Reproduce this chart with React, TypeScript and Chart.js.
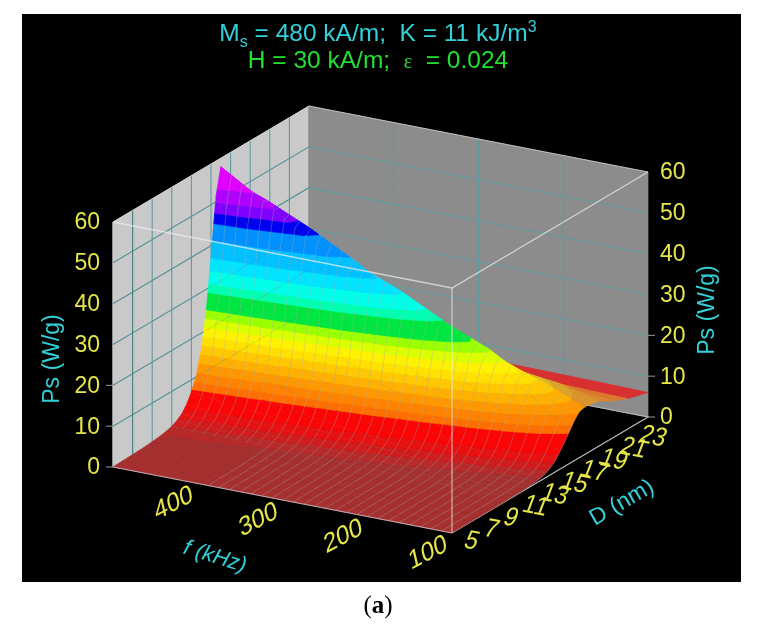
import { useEffect, useRef } from "react";
import { Chart, registerables } from "chart.js";

Chart.register(...registerables);

// axes
const fTicks = [100, 200, 300, 400];
const dTicks = [5, 7, 9, 11, 13, 15, 17, 19, 21, 23];
const psTicks = [0, 10, 20, 30, 40, 50, 60];

// surface nodes
const fNodes = [100, 150, 200, 250, 300, 350, 400, 450, 500];
const dNodes = [3, 4, 5, 6, 7, 8, 9, 9.5, 10, 10.5, 11, 11.5, 12, 12.5, 13, 13.5, 14, 14.5, 15, 15.5, 16, 16.5, 17, 17.5, 18, 19, 20, 21, 22, 23];

const ps100 = [0, 0, 0, 0, 0, 0, 0.1, 0.1, 0.1, 0.2, 0.3, 0.4, 0.6, 1.0, 1.7, 2.7, 4.3, 6.0, 8.0, 9.9, 11.3, 11.6, 11.5, 11.3, 11.0, 9.6, 8.4, 7.4, 6.7, 6.0];
const ps150 = [0, 0, 0, 0, 0, 0.1, 0.1, 0.2, 0.3, 0.4, 0.6, 0.9, 1.5, 2.3, 3.7, 6.1, 9.2, 12.4, 15.4, 17.1, 17.1, 16.1, 15.3, 14.4, 13.5, 11.0, 8.7, 7.5, 6.8, 6.2];
const ps200 = [0, 0, 0, 0.1, 0.1, 0.1, 0.2, 0.3, 0.5, 0.7, 1.1, 1.7, 2.6, 4.1, 6.5, 10.5, 15.4, 19.8, 22.6, 23.1, 20.9, 18.6, 17.3, 15.9, 14.7, 11.6, 8.9, 7.6, 6.9, 6.3];
const ps250 = [0, 0, 0.1, 0.1, 0.1, 0.2, 0.3, 0.5, 0.8, 1.2, 1.7, 2.6, 4.0, 6.3, 10.1, 16.0, 22.5, 27.2, 29.0, 27.4, 23.2, 20.0, 18.4, 16.7, 15.3, 12.0, 9.2, 7.7, 7.0, 6.4];
const ps300 = [0, 0, 0.1, 0.1, 0.2, 0.3, 0.5, 0.8, 1.1, 1.7, 2.5, 3.8, 5.8, 9.0, 14.4, 22.2, 29.9, 34.3, 34.2, 30.6, 24.7, 20.9, 19.0, 17.2, 15.7, 12.5, 9.9, 8.5, 7.4, 6.4];
const ps350 = [0, 0.1, 0.1, 0.2, 0.3, 0.4, 0.7, 1.0, 1.5, 2.3, 3.4, 5.1, 7.9, 12.2, 19.2, 29.0, 37.4, 40.6, 38.4, 32.9, 25.7, 21.4, 19.4, 17.5, 15.9, 12.6, 9.9, 8.5, 7.4, 6.4];
const ps400 = [0, 0.1, 0.1, 0.2, 0.3, 0.5, 0.9, 1.3, 1.9, 3.0, 4.5, 6.7, 10.3, 15.8, 24.7, 36.2, 44.7, 46.1, 41.7, 34.5, 26.4, 21.8, 19.7, 17.7, 16.1, 12.6, 10.0, 8.5, 7.5, 6.4];
const ps450 = [0, 0.1, 0.2, 0.3, 0.4, 0.7, 1.1, 1.7, 2.4, 3.8, 5.6, 8.5, 12.9, 19.9, 30.6, 43.7, 51.6, 50.8, 44.3, 35.8, 26.9, 22.1, 19.9, 17.9, 16.2, 12.7, 10.0, 8.6, 7.5, 6.4];
const ps500 = [0, 0.1, 0.2, 0.3, 0.5, 0.8, 1.4, 2.1, 3.0, 4.6, 7.0, 10.3, 15.9, 24.3, 37.0, 51.2, 57.9, 54.9, 46.4, 36.7, 27.3, 22.3, 20.1, 18.0, 16.2, 12.7, 10.0, 8.6, 7.5, 6.4];
const psRows = [ps100, ps150, ps200, ps250, ps300, ps350, ps400, ps450, ps500];

// contour bands: upper limit of each band and its colour
const bandTops = [0.8, 1.5, 2.5, 4, 7.5, 9, 11, 13, 15, 17, 19, 21, 23, 25, 29, 31, 34, 37, 41, 45, 47.5, 50, 53, 60.1];
const bandColors = ["#a5302f", "#b82a2a", "#d01c1c", "#e81010", "#fc0505", "#ff6e00", "#ff8200", "#ff9800", "#ffb000", "#ffc800", "#ffe000", "#fff200", "#dcff00", "#9cff00", "#00e640", "#00ffb0", "#00ffe8", "#00e4ff", "#00c0ff", "#0090ff", "#0000f0", "#8000ff", "#b000ff", "#e000ff"];

const F_MIN = 100, F_MAX = 500, D_MIN = 3, D_MAX = 23, Z_MAX = 60;
const GRID = "#5f9a9e";
const CYAN = "#33d0d8";
const YELLOW = "#e6e64a";

type P3 = { f: number; d: number; z: number };
type P2 = { x: number; y: number };

// the plot box is a parallel projection
const project = (f: number, d: number, z: number): P2 => ({
  x: 452 - ((f - F_MIN) / (F_MAX - F_MIN)) * 339 + ((d - D_MIN) / (D_MAX - D_MIN)) * 196,
  y: 533 - ((f - F_MIN) / (F_MAX - F_MIN)) * 66 - ((d - D_MIN) / (D_MAX - D_MIN)) * 116 - (z / Z_MAX) * 245,
});
const pt = (p: P3) => project(p.f, p.d, p.z);
const gap: P2 = { x: NaN, y: NaN };
const lerp = (a: number, b: number, t: number) => a + (b - a) * t;

const clipAbove = (poly: P3[], lim: number, sign: number) => {
  const out: P3[] = [];
  poly.forEach((a, i) => {
    const b = poly[(i + 1) % poly.length];
    const ina = sign * (a.z - lim) >= 0;
    const inb = sign * (b.z - lim) >= 0;
    if (ina) out.push(a);
    if (ina !== inb) {
      const t = (lim - a.z) / (b.z - a.z);
      out.push({ f: lerp(a.f, b.f, t), d: lerp(a.d, b.d, t), z: lim });
    }
  });
  return out;
};

const mixGrey = (hex: string, k: number) => {
  const n = parseInt(hex.slice(1), 16);
  const m = (c: number) => Math.round(c * k + 140 * (1 - k));
  return `rgb(${m((n >> 16) & 255)},${m((n >> 8) & 255)},${m(n & 255)})`;
};

const shape = (pts: P2[], color: string) => ({
  data: [...pts, pts[0]],
  showLine: true,
  fill: "shape",
  backgroundColor: color,
  borderColor: color,
  borderWidth: 0.7,
  pointRadius: 0,
});
const lines = (pts: P2[], color: string, width = 1) => ({
  data: pts,
  showLine: true,
  fill: false,
  borderColor: color,
  borderWidth: width,
  pointRadius: 0,
});

function buildDatasets() {
  const sets: any[] = [];

  // walls and floor
  sets.push(shape([project(500, 3, 0), project(500, 23, 0), project(100, 23, 0), project(100, 3, 0)], "#000000"));
  sets.push(shape([project(500, 3, 0), project(500, 23, 0), project(500, 23, 60), project(500, 3, 60)], "#c9c9c9"));
  sets.push(shape([project(500, 23, 0), project(100, 23, 0), project(100, 23, 60), project(500, 23, 60)], "#8c8c8c"));

  const grid: P2[] = [];
  const wallGrid: P2[] = [];
  const floorGrid: P2[] = [];
  psTicks.slice(1, -1).forEach((z) => {
    grid.push(project(500, 3, z), project(500, 23, z), project(100, 23, z), gap);
    wallGrid.push(project(500, 3, z), project(500, 23, z), gap);
  });
  dTicks.slice(0, -1).forEach((d) => {
    grid.push(project(500, d, 60), project(500, d, 0), gap);
    wallGrid.push(project(500, d, 60), project(500, d, 0), gap);
    floorGrid.push(project(500, d, 0), project(100, d, 0), gap);
  });
  fTicks.slice(1).forEach((f) => {
    grid.push(project(f, 23, 60), project(f, 23, 0), gap);
    floorGrid.push(project(f, 23, 0), project(f, 3, 0), gap);
  });
  sets.push(lines(grid, GRID, 1.1));
  sets.push(lines(floorGrid, "#457a7a", 1));

  sets.push(lines([project(500, 3, 60), project(500, 23, 60), project(100, 23, 60)], "rgba(235,235,235,0.6)", 1));
  sets.push(lines([project(100, 3, 0), project(100, 23, 0), project(500, 23, 0)], "#b8b8b8", 1.2));

  // surface, back to front
  for (let i = dNodes.length - 2; i >= 0; i--) {
    for (let j = fNodes.length - 2; j >= 0; j--) {
      const quad: P3[] = [
        { f: fNodes[j + 1], d: dNodes[i], z: psRows[j + 1][i] },
        { f: fNodes[j + 1], d: dNodes[i + 1], z: psRows[j + 1][i + 1] },
        { f: fNodes[j], d: dNodes[i + 1], z: psRows[j][i + 1] },
        { f: fNodes[j], d: dNodes[i], z: psRows[j][i] },
      ];
      // the far slope behind the ridge looks washed out
      const farSide = dNodes[i] >= 16.5;
      bandTops.forEach((top, k) => {
        const lo = k === 0 ? -1 : bandTops[k - 1];
        const piece = clipAbove(clipAbove(quad, lo, 1), top, -1);
        if (piece.length < 3) return;
        const col = farSide ? mixGrey(bandColors[k], 0.68) : bandColors[k];
        sets.push(shape(piece.map(pt), col));
      });
    }

    // mesh of this strip
    if (dNodes[i] < 16.5) {
      const mesh: P2[] = [];
      for (let j = 0; j < fNodes.length - 1; j++) {
        for (let s = 0; s < 4; s++) {
          const t = s / 4;
          const f = lerp(fNodes[j], fNodes[j + 1], t);
          mesh.push(
            project(f, dNodes[i], lerp(psRows[j][i], psRows[j + 1][i], t)),
            project(f, dNodes[i + 1], lerp(psRows[j][i + 1], psRows[j + 1][i + 1], t)),
            gap
          );
        }
      }
      const parts = Math.round((dNodes[i + 1] - dNodes[i]) / 0.5);
      for (let s = 0; s < parts; s++) {
        const t = s / parts;
        const d = lerp(dNodes[i], dNodes[i + 1], t);
        fNodes.forEach((f, j) => mesh.push(project(f, d, lerp(psRows[j][i], psRows[j][i + 1], t))));
        mesh.push(gap);
      }
      sets.push(lines(mesh, "rgba(165,175,175,0.5)", 0.7));
    }
  }

  // the walls' grid shows faintly through the surface
  sets.push(lines(wallGrid, "rgba(50,100,100,0.16)", 1));

  // front edges of the box, over the surface
  sets.push(lines([project(500, 3, 60), project(100, 3, 60), project(100, 23, 60)], "rgba(235,235,235,0.72)", 1.3));
  sets.push(lines([project(100, 3, 60), project(100, 3, 0)], "rgba(240,240,240,0.5)", 1.6));
  sets.push(lines([project(500, 3, 0), project(100, 3, 0)], "#c0a8b0", 1.2));

  // tick marks
  const marks: P2[] = [];
  psTicks.forEach((z) => {
    const a = project(500, 3, z);
    const b = project(100, 23, z);
    marks.push(a, { x: a.x - 7, y: a.y }, gap, b, { x: b.x + 7, y: b.y }, gap);
  });
  sets.push(lines(marks, "#9a9a9a", 1));

  return sets.reverse();
}

const labelPlugin = {
  id: "boxLabels",
  afterDatasetsDraw(chart: any) {
    const { ctx, scales } = chart;
    const at = (p: P2) => ({ x: scales.x.getPixelForValue(p.x), y: scales.y.getPixelForValue(p.y) });
    const put = (text: string, p: P2, font: string, color: string, m: number[], align: CanvasTextAlign = "center") => {
      ctx.save();
      ctx.translate(p.x, p.y);
      ctx.transform(m[0], m[1], m[2], m[3], 0, 0);
      ctx.font = font;
      ctx.fillStyle = color;
      ctx.textAlign = align;
      ctx.textBaseline = "middle";
      ctx.fillText(text, 0, 0);
      ctx.restore();
    };
    const flat = [1, 0, 0, 1];
    const font = '23px "Liberation Sans", Arial, sans-serif';

    psTicks.forEach((z) => {
      const a = at(project(500, 3, z));
      const b = at(project(100, 23, z));
      put(String(z), { x: a.x - 13, y: a.y + 1 }, font, YELLOW, flat, "right");
      put(String(z), { x: b.x + 12, y: b.y + 1 }, font, YELLOW, flat, "left");
    });
    fTicks.forEach((f) => {
      const a = at(project(f, 3, 0));
      put(String(f), { x: a.x - 24, y: a.y + 20 }, font, YELLOW, [0.98, -0.52, 0.25, 1.1]);
    });
    dTicks.forEach((d) => {
      const a = at(project(100, d, 0));
      put(String(d), { x: a.x + (d > 9 ? 5 : 0), y: a.y + 20 }, font, YELLOW, [1.0, 0.19, -0.42, 1.1]);
    });

    put("Ps (W/g)", at({ x: 53, y: 359 }), font, CYAN, [0, -1, 1, 0]);
    put("Ps (W/g)", at({ x: 708, y: 310 }), font, CYAN, [0, -1, 1, 0]);
    put("D (nm)", at({ x: 622, y: 503 }), font, CYAN, [0.866, -0.5, 0.5, 0.866]);
    put("f (kHz)", at({ x: 215, y: 557 }), 'italic 22px "Liberation Sans", Arial, sans-serif', CYAN, [0.955, 0.296, -0.296, 0.955]);
  },
};

export default function App() {
  const canvasRef = useRef<HTMLCanvasElement | null>(null);

  useEffect(() => {
    document.body.style.margin = "0";
    if (!canvasRef.current) return;
    const chart = new Chart(canvasRef.current, {
      type: "scatter",
      data: { datasets: buildDatasets() },
      plugins: [labelPlugin],
      options: {
        responsive: false,
        animation: false,
        events: [],
        parsing: false,
        layout: { padding: 0 },
        plugins: { legend: { display: false }, tooltip: { enabled: false } },
        scales: {
          x: { type: "linear", min: 0, max: 768, display: false },
          y: { type: "linear", min: 0, max: 630, reverse: true, display: false },
        },
      },
    } as any);
    return () => chart.destroy();
  }, []);

  const line: React.CSSProperties = {
    position: "absolute",
    left: 0,
    width: 756,
    textAlign: "center",
    fontFamily: '"Liberation Sans", Arial, sans-serif',
    fontSize: 24.5,
    lineHeight: "26px",
    whiteSpace: "pre",
  };

  return (
    <div style={{ position: "relative", width: 768, height: 630, background: "#fff", overflow: "hidden" }}>
      <div style={{ position: "absolute", left: 22, top: 14, width: 719, height: 568, background: "#000" }} />
      <canvas ref={canvasRef} width={768} height={630} style={{ position: "absolute", left: 0, top: 0 }} />
      <div style={{ ...line, top: 20, color: CYAN }}>
        M<sub style={{ fontSize: 16, lineHeight: 0 }}>s</sub> = 480 kA/m;  K = 11 kJ/m<sup style={{ fontSize: 16, lineHeight: 0 }}>3</sup>
      </div>
      <div style={{ ...line, top: 47, color: "#22e030" }}>
        H = 30 kA/m;  <span style={{ fontFamily: '"Liberation Serif", serif', fontSize: 20 }}>ε</span>  = 0.024
      </div>
      <div style={{ position: "absolute", left: 0, width: 756, top: 591, textAlign: "center", fontFamily: '"Liberation Serif", serif', fontSize: 25, lineHeight: "28px", color: "#000" }}>
        (<b>a</b>)
      </div>
    </div>
  );
}
